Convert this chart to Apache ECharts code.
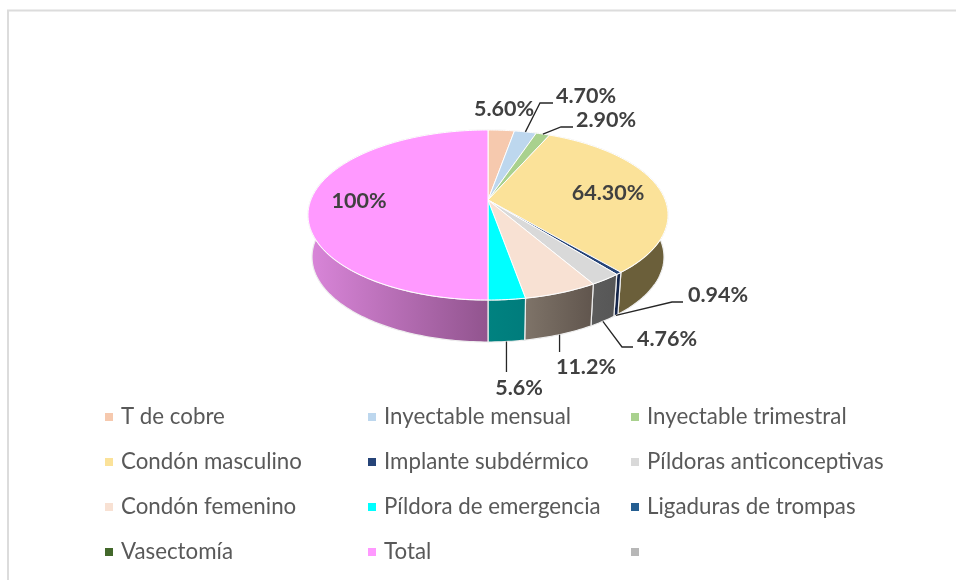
<!DOCTYPE html>
<html>
<head>
<meta charset="utf-8">
<style>
  html, body { margin: 0; padding: 0; background: #fff; }
  #chart { width: 956px; height: 580px; }
</style>
<script src="https://cdn.jsdelivr.net/npm/echarts@6/dist/echarts.min.js"></script>
</head>
<body>
<div id="chart"></div>
<script>
const categories = ['T de cobre', 'Inyectable mensual', 'Inyectable trimestral', 'Condón masculino', 'Implante subdérmico', 'Píldoras anticonceptivas', 'Condón femenino', 'Píldora de emergencia', 'Ligaduras de trompas', 'Vasectomía', 'Total', '\u00a0']
const values = [5.6, 4.7, 2.9, 64.3, 0.94, 4.76, 11.2, 5.6, 0, 0, 100, 0]
const valueLabels = ['5.60%', '4.70%', '2.90%', '64.30%', '0.94%', '4.76%', '11.2%', '5.6%', '', '', '100%', '']

const topColors = ['#f6c9ae', '#bdd7ee', '#a9d18e', '#fbe299', '#264478', '#d9d9d9', '#f8e1d3', '#00ffff', '#255e91', '#43682b', '#ff99ff', '#b7b7b7']
const wallColors = [
  ['#7b6557', '#7b6557'], ['#5f6c77', '#5f6c77'], ['#556947', '#556947'], ['#6b5f3a', '#6b5f3a'],
  ['#14254a', '#14254a'], ['#5c5c5c', '#565656'], ['#7f7469', '#60554d'], ['#008280', '#007c7c'],
  ['#13304a', '#13304a'], ['#223416', '#223416'], ['#da86da', '#91548e'], ['#5c5c5c', '#5c5c5c']
]

// label centre, then the bend of the leader line (if any)
const labelLayout = [
  { pos: [504, 109] },
  { pos: [586, 96], elbow: [[540, 103], [553, 103]], rim: 'top' },
  { pos: [606, 120], elbow: [[561, 127], [573, 127]], rim: 'top' },
  { pos: [608, 193] },
  { pos: [718, 295], elbow: [[672, 302], [683, 302]], rim: 'bottom' },
  { pos: [667, 339], elbow: [[622, 347], [633, 347]], rim: 'bottom' },
  { pos: [586, 367], elbow: [[558, 352]], rim: 'bottom', lockX: true },
  { pos: [519, 388], elbow: [[506, 372]], rim: 'bottom', lockX: true },
  null, null,
  { pos: [359, 201] },
  null
]

const total = values.reduce((a, b) => a + b, 0)
const cx = 488
const topRim = { rx: 180, ry: 85, cy: 215 }
const bottomRim = { rx: 176, ry: 85, cy: 257 }
const tilt = 15 / 85 // how far the apex sits above the centre of the ellipse

// point on a rim for an angle clockwise from 12 o'clock, with perspective
const rimPoint = (deg, rim) => {
  const a = deg * Math.PI / 180
  const k = 1 + tilt * Math.cos(a)
  const x = Math.sin(a) * Math.sqrt(1 - tilt * tilt) / k
  const y = (Math.cos(a) + tilt) / k
  return [cx + rim.rx * x, rim.cy - rim.ry * y]
}

const rimPath = (from, to, rim) => {
  const pts = []
  const steps = Math.max(2, Math.ceil(to - from))
  for (let i = 0; i <= steps; i++) {
    pts.push(rimPoint(from + (to - from) * i / steps, rim))
  }
  return pts
}

const startAngle = index => {
  let sum = 0
  for (let i = 0; i < index; i++) sum += values[i]
  return sum / total * 360
}

const renderSlice = index => (params, api) => {
  const value = api.value(0)
  if (!value) return null
  const from = startAngle(index)
  const to = from + value / total * 360
  const top = rimPath(from, to, topRim)
  const bottom = rimPath(from, to, bottomRim).reverse()
  const apex = [cx, topRim.cy - tilt * topRim.ry]
  const children = [
    {
      type: 'polygon',
      z2: 1,
      shape: { points: top.concat(bottom) },
      style: {
        fill: new echarts.graphic.LinearGradient(0, 0, 1, 0, [
          { offset: 0, color: wallColors[index][0] },
          { offset: 1, color: wallColors[index][1] }
        ]),
        stroke: '#eeeeee',
        lineWidth: 1.2
      }
    },
    {
      type: 'polygon',
      z2: 5,
      shape: { points: [apex].concat(top) },
      style: { fill: topColors[index], stroke: '#ffffff', lineWidth: 1 }
    }
  ]
  const layout = labelLayout[index]
  if (layout) {
    if (layout.elbow) {
      const start = rimPoint((from + to) / 2, layout.rim === 'top' ? topRim : bottomRim)
      const pts = [start].concat(layout.elbow)
      if (layout.lockX) pts[1] = [start[0], pts[1][1]]
      children.push({
        type: 'polyline',
        z2: 8,
        shape: { points: pts },
        style: { fill: 'none', stroke: '#262626', lineWidth: 1.3 }
      })
    }
    children.push({
      type: 'text',
      z2: 10,
      x: layout.pos[0],
      y: layout.pos[1],
      style: {
        text: valueLabels[index],
        fill: '#404040',
        font: 'bold 21.5px Lato',
        align: 'center',
        verticalAlign: 'middle'
      }
    })
  }
  return { type: 'group', children }
}

const legendColumn = (left, names) => ({
  left,
  top: 402,
  padding: 0,
  orient: 'vertical',
  selectedMode: false,
  icon: 'rect',
  itemWidth: 8,
  itemHeight: 8,
  itemGap: 15,
  data: names,
  textStyle: {
    fontFamily: 'Lato',
    fontSize: 22.3,
    color: '#595959',
    lineHeight: 30,
    padding: [0, 0, 0, 3]
  }
})

const option = {
  animation: false,
  backgroundColor: '#fff',
  legend: [
    legendColumn(105, [categories[0], categories[3], categories[6], categories[9]]),
    legendColumn(368, [categories[1], categories[4], categories[7], categories[10]]),
    legendColumn(631, [categories[2], categories[5], categories[8], categories[11]])
  ],
  graphic: [
    { type: 'line', shape: { x1: 7, y1: 10.5, x2: 956, y2: 10.5 }, style: { stroke: '#dcdcdc', lineWidth: 2 } },
    { type: 'line', shape: { x1: 8, y1: 10, x2: 8, y2: 580 }, style: { stroke: '#dcdcdc', lineWidth: 2 } }
  ],
  series: categories.map((name, i) => ({
    type: 'custom',
    name,
    coordinateSystem: 'none',
    silent: true,
    itemStyle: { color: topColors[i] },
    data: [[values[i]]],
    renderItem: renderSlice(i)
  }))
}

const chart = echarts.init(document.getElementById('chart'))
chart.setOption(option)
window.addEventListener('resize', function () {
  chart && chart.resize()
})
</script>
</body>
</html>
